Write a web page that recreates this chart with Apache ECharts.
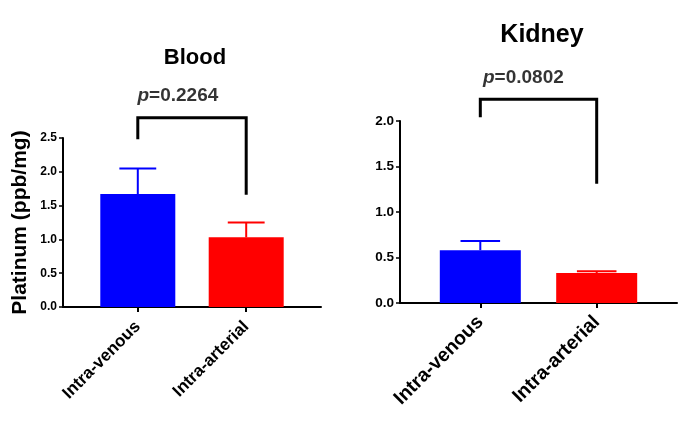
<!DOCTYPE html>
<html>
<head>
<meta charset="utf-8">
<script src="https://cdn.jsdelivr.net/npm/echarts@6/dist/echarts.min.js"></script>
<style>html,body{margin:0;padding:0;background:#fff;}#c{width:685px;height:445px;}</style>
</head>
<body>
<div id="c"></div>
<script>
const categories = ['Intra-venous', 'Intra-arterial'];
const panelTitles = ['Blood', 'Kidney'];
const bloodMean = [1.67, 1.03];
const bloodSem = [0.38, 0.22];
const kidneyMean = [0.58, 0.33];
const kidneySem = [0.10, 0.02];
const pValues = ['0.2264', '0.0802'];
// bracket: [left leg bottom, top, right leg bottom]
const bloodBracket = [2.48, 2.80, 1.66];
const kidneyBracket = [2.04, 2.24, 1.31];
const pLabelY = [3.12, 2.48];
const yMax = [2.5, 2.0];
const barColors = ['#0000FF', '#FF0000'];

const FONT = 'Liberation Sans, Arial, Helvetica, sans-serif';
const chart = echarts.init(document.getElementById('c'));

function panelSeries(idx, mean, sem, bracket, barW, capHalf, errW, pfs) {
  const barData = mean.map((v, i) => ({ value: [i, v], itemStyle: { color: barColors[i] } }));
  const errData = mean.map((v, i) => [i, v, v + sem[i]]);
  const bracketData = [[0, bracket[0]], [0, bracket[1]], [1, bracket[1]], [1, bracket[2]]];
  return [
    {
      type: 'bar', xAxisIndex: idx, yAxisIndex: idx, data: barData,
      barWidth: barW, silent: true, z: 2
    },
    {
      type: 'custom', xAxisIndex: idx, yAxisIndex: idx, data: errData, clip: false, z: 3,
      renderItem: function (params, api) {
        const x = api.value(0), lo = api.value(1), hi = api.value(2);
        const c = barColors[params.dataIndex];
        const pLo = api.coord([x, lo]);
        const pHi = api.coord([x, hi]);
        const pL = api.coord([x - capHalf, hi]);
        const pR = api.coord([x + capHalf, hi]);
        return {
          type: 'group',
          children: [
            { type: 'line', shape: { x1: pLo[0], y1: pLo[1], x2: pHi[0], y2: pHi[1] }, style: { stroke: c, lineWidth: errW } },
            { type: 'line', shape: { x1: pL[0], y1: pL[1], x2: pR[0], y2: pR[1] }, style: { stroke: c, lineWidth: errW } }
          ]
        };
      }
    },
    {
      type: 'line', xAxisIndex: idx, yAxisIndex: idx, data: bracketData, clip: false,
      symbol: 'none', silent: true,
      lineStyle: { color: '#000', width: 3, join: 'miter' }
    },
    {
      type: 'scatter', xAxisIndex: idx, yAxisIndex: idx, clip: false, symbolSize: 0, silent: true,
      data: [[0.37, pLabelY[idx]]],
      label: {
        show: true, position: 'inside', color: '#000',
        formatter: '{i|p}{n|=' + pValues[idx] + '}',
        rich: {
          i: { fontStyle: 'italic', fontWeight: 'bold', fontSize: pfs, fontFamily: FONT, color: '#000' },
          n: { fontWeight: 'bold', fontSize: pfs, fontFamily: FONT, color: '#000' }
        }
      }
    }
  ];
}

function xAxisCfg(idx, fs, margin) {
  return {
    type: 'value', gridIndex: idx, min: -0.69, max: 1.69,
    splitLine: { show: false },
    axisLine: { show: true, onZero: false, lineStyle: { color: '#000', width: 2 } },
    axisTick: { show: true, customValues: [0, 1], length: 5, lineStyle: { color: '#000', width: 2 } },
    axisLabel: {
      customValues: [0, 1], rotate: 45, margin: margin,
      formatter: v => categories[Math.round(v)],
      fontWeight: 'bold', fontSize: fs, fontFamily: FONT, color: '#000'
    }
  };
}

function yAxisCfg(idx, fs, name) {
  return {
    type: 'value', gridIndex: idx, min: 0, max: yMax[idx], interval: 0.5,
    splitLine: { show: false },
    axisLine: { show: true, onZero: false, lineStyle: { color: '#000', width: 2 } },
    axisTick: { show: true, length: 4, lineStyle: { color: '#000', width: 1.5 } },
    axisLabel: {
      formatter: v => v.toFixed(1), margin: 6,
      fontWeight: 'bold', fontSize: fs, fontFamily: FONT, color: '#000'
    },
    name: name, nameLocation: 'middle', nameGap: 32, nameRotate: 90,
    nameTextStyle: { fontWeight: 'bold', fontSize: 21, fontFamily: FONT, color: '#000' }
  };
}

chart.setOption({
  animation: false,
  backgroundColor: '#fff',
  title: [
    { text: panelTitles[0], left: 190, top: 42, textAlign: 'center',
      textStyle: { fontWeight: 'bold', fontSize: 22, fontFamily: FONT, color: '#000' } },
    { text: panelTitles[1], left: 537, top: 18, textAlign: 'center',
      textStyle: { fontWeight: 'bold', fontSize: 25, fontFamily: FONT, color: '#000' } }
  ],
  grid: [
    { left: 63, top: 138, width: 258, height: 169 },
    { left: 400, top: 121, width: 277, height: 182 }
  ],
  xAxis: [xAxisCfg(0, 17, 17), xAxisCfg(1, 19.5, 16)],
  yAxis: [yAxisCfg(0, 12, 'Platinum (ppb/mg)'), yAxisCfg(1, 13.5, '')],
  series: [].concat(
    panelSeries(0, bloodMean, bloodSem, bloodBracket, 75, 0.17, 2, 19),
    panelSeries(1, kidneyMean, kidneySem, kidneyBracket, 81, 0.17, 2, 19)
  )
});
</script>
</body>
</html>
